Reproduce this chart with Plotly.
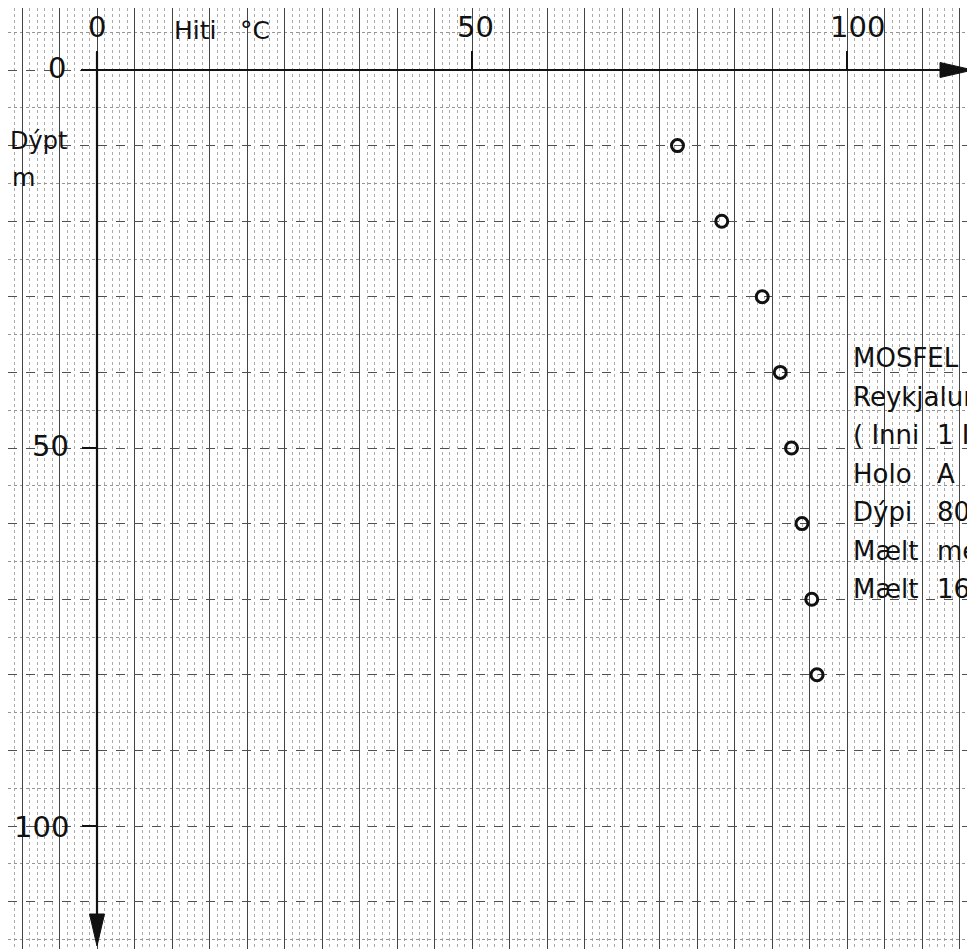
#temperature vs depth log (scanned graph paper look), Mosfellssveit hole A

import plotly.graph_objects as go

#DATA
hiti = [77.4, 83.3, 88.7, 91.1, 92.6, 94.0, 95.3, 96.0]   # deg C
dypt = [10, 20, 30, 40, 50, 60, 70, 80]                   # m

x_ticks = [0, 50, 100]
y_ticks = [0, 50, 100]
info_left = ["MOSFEL", "Reykjalun", "( Inni", "Holo", "Dýpi", "Mælt", "Mælt"]
info_right = ["", "", "1 I", "A", "80", "me", "16"]

OFF = 8                 # page body margin of the html
W, H = 975 - OFF, 949 - OFF
X0, Y0 = 97, 70         # page pixel of the 0,0 corner
SX, SY = 7.5, 7.56      # px per deg, px per m

x_rng = [(OFF - X0) / SX, (975 - X0) / SX]
y_rng = [(949 - Y0) / SY, (OFF - Y0) / SY]

def px(x):  # page pixel -> paper
    return (x - OFF) / W

def py(y):
    return 1 - (y - OFF) / H

FONT = "DejaVu Sans"
INK = "#111111"

fig = go.Figure()

fig.add_trace(go.Scatter(
    x=hiti, y=dypt, mode="markers",
    marker=dict(symbol="circle-open", size=12, color=INK, line=dict(width=3, color=INK)),
    showlegend=False
))

fig.update_xaxes(
    range=x_rng, showticklabels=False, zeroline=False, showline=False,
    tick0=0, dtick=5, showgrid=True, gridcolor="#444444", gridwidth=1.4,
    minor=dict(tick0=0, dtick=1, showgrid=True, gridcolor="#aaaaaa", griddash="dot", gridwidth=1)
)
fig.update_yaxes(
    range=y_rng, showticklabels=False, zeroline=False, showline=False,
    tick0=0, dtick=10, showgrid=True, gridcolor="#505050", gridwidth=1.4, griddash="dash",
    minor=dict(tick0=0, dtick=5, showgrid=True, gridcolor="#959595", griddash="dot", gridwidth=1)
)

shapes = []
# main axes
shapes.append(dict(type="line", xref="x", yref="y", x0=-16 / SX, x1=x_rng[1] - 30 / SX, y0=0, y1=0,
                   line=dict(color=INK, width=2.2)))
shapes.append(dict(type="line", xref="x", yref="y", x0=0, x1=0, y0=-18 / SY, y1=y_rng[0] - 28 / SY,
                   line=dict(color=INK, width=2.2)))
# arrow heads
tx = x_rng[1] - 2 / SX
shapes.append(dict(type="path", xref="x", yref="y", fillcolor=INK, line=dict(color=INK, width=1),
                   path=f"M {tx} 0 L {tx - 33 / SX} {-7.5 / SY} L {tx - 33 / SX} {7.5 / SY} Z"))
ty = y_rng[0] - 3 / SY
shapes.append(dict(type="path", xref="x", yref="y", fillcolor=INK, line=dict(color=INK, width=1),
                   path=f"M 0 {ty} L {-7.5 / SX} {ty - 32 / SY} L {7.5 / SX} {ty - 32 / SY} Z"))
# little tick marks
for t in x_ticks:
    shapes.append(dict(type="line", xref="x", yref="y", x0=t, x1=t, y0=0, y1=-19 / SY,
                       line=dict(color=INK, width=2)))
for t in y_ticks:
    shapes.append(dict(type="line", xref="x", yref="y", x0=-15 / SX, x1=0, y0=t, y1=t,
                       line=dict(color=INK, width=2)))

ann = []
fs = 29

def txt(x, y, s, size, xa="center"):
    ann.append(dict(x=px(x), y=py(y), xref="paper", yref="paper", xanchor=xa, yanchor="middle",
                    text=s, showarrow=False, font=dict(family=FONT, size=size, color=INK)))

# x tick labels above the axis
for t, xc in zip(x_ticks, [97, 475, 857]):
    txt(xc, 27, str(t), fs)
# y tick labels left of the axis
for t, xr, yc in zip(y_ticks, [68, 71, 71], [68, 446, 827]):
    txt(xr, yc, str(t), fs, xa="right")

txt(172, 30, "Hiti", 25, xa="left")
txt(238, 30, "°C", 25, xa="left")
txt(8, 141, "Dýpt", 24, xa="left")
txt(10, 178, "m", 24, xa="left")

# info block on the right, runs off the sheet edge like the scan
for i, (a, b) in enumerate(zip(info_left, info_right)):
    yc = 358 + 38.5 * i
    txt(851, yc, a, 26, xa="left")
    if b:
        txt(935, yc, b, 26, xa="left")

fig.update_layout(
    width=W, height=H, margin=dict(l=0, r=0, t=0, b=0),
    paper_bgcolor="white", plot_bgcolor="white",
    shapes=shapes, annotations=ann, showlegend=False
)

fig.write_html("out.html")
